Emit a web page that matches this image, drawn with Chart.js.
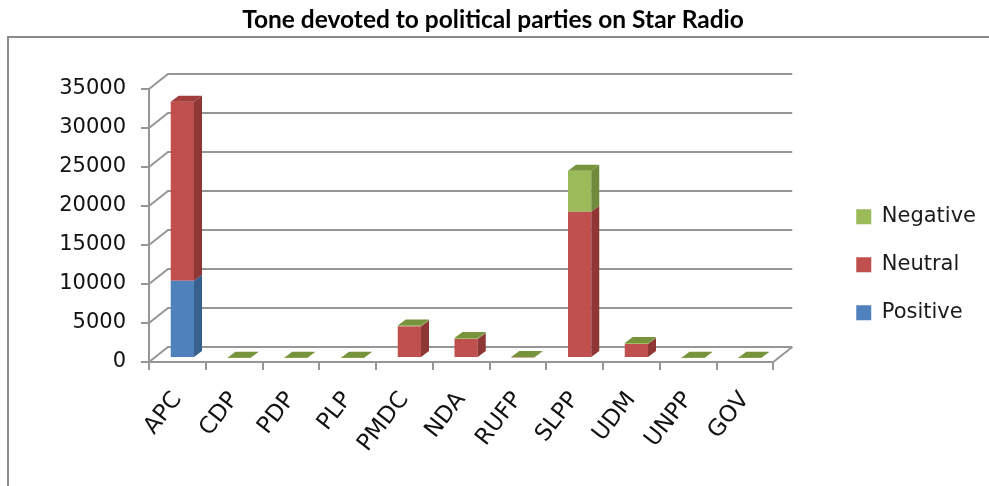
<!DOCTYPE html>
<html>
<head>
<meta charset="utf-8">
<script src="https://cdn.jsdelivr.net/npm/chart.js@4/dist/chart.umd.min.js"></script>
<style>
  html, body { margin: 0; padding: 0; background: #fff; }
  #wrap { width: 989px; height: 486px; position: relative; }
  .preload { position: absolute; left: -9999px; top: 0; }
</style>
</head>
<body>
<div class="preload" style="font-family: 'DejaVu Sans'">Negative 35000</div>
<div class="preload" style="font-family: Lato; font-weight: bold">Tone</div>
<div id="wrap"><canvas id="chart" width="989" height="486"></canvas></div>
<script>
// data
var parties = ["APC", "CDP", "PDP", "PLP", "PMDC", "NDA", "RUFP", "SLPP", "UDM", "UNPP", "GOV"];
var positive = [9900, 0, 0, 0, 0, 0, 0, 0, 0, 0, 0];
var neutral = [22950, 0, 0, 0, 4050, 2450, 80, 18750, 1800, 0, 0];
var negative = [0, 40, 40, 40, 130, 110, 60, 5250, 120, 40, 40];
var yTicks = [0, 5000, 10000, 15000, 20000, 25000, 30000, 35000];

var gridColor = "#969696";
var sideColors = ["#38608f", "#8e3735", "#6f8a3d"];
var topColors = ["#6b96cc", "#a23d3b", "#77933c"];
var depth = { dx: 19, dy: -15 };     // back wall offset
var barDepth = { dx: 8, dy: -6 };     // bar thickness
var barShift = { dx: 5, dy: -4 };     // bars sit a bit behind the front edge

// back wall gridlines, floor and 3d faces of the bars
var fake3d = {
    id: "fake3d",
    beforeDraw: function (chart) {
        var ctx = chart.ctx;
        ctx.save();
        ctx.fillStyle = "#fff";
        ctx.fillRect(0, 0, chart.width, chart.height);
        ctx.strokeStyle = "#8a8a8a";
        ctx.lineWidth = 2;
        ctx.strokeRect(8, 37, chart.width + 20, chart.height + 20);
        ctx.restore();
    },
    beforeDatasetsDraw: function (chart) {
        var ctx = chart.ctx;
        var area = chart.chartArea;
        var y = chart.scales.y;
        ctx.save();
        ctx.strokeStyle = gridColor;
        ctx.lineWidth = 2;
        y.ticks.forEach(function (t) {
            var py = y.getPixelForValue(t.value);
            ctx.beginPath();
            ctx.moveTo(area.left, py);
            ctx.lineTo(area.left + depth.dx, py + depth.dy);
            ctx.lineTo(area.right + depth.dx, py + depth.dy);
            ctx.stroke();
        });
        // right edge of the floor
        ctx.beginPath();
        ctx.moveTo(area.right, area.bottom);
        ctx.lineTo(area.right + depth.dx, area.bottom + depth.dy);
        ctx.stroke();
        ctx.restore();

        ctx.save();
        ctx.translate(barShift.dx, barShift.dy);
    },
    afterDatasetsDraw: function (chart) {
        var ctx = chart.ctx;
        var n = chart.data.labels.length;
        var metas = chart.data.datasets.map(function (d, i) { return chart.getDatasetMeta(i); });
        // side faces
        metas.forEach(function (meta, di) {
            meta.data.forEach(function (bar) {
                var h = bar.base - bar.y;
                if (h <= 0) return;
                var xr = bar.x + bar.width / 2;
                ctx.fillStyle = sideColors[di];
                ctx.beginPath();
                ctx.moveTo(xr, bar.y);
                ctx.lineTo(xr + barDepth.dx, bar.y + barDepth.dy);
                ctx.lineTo(xr + barDepth.dx, bar.base + barDepth.dy);
                ctx.lineTo(xr, bar.base);
                ctx.closePath();
                ctx.fill();
            });
        });
        // top faces, coloured by the highest non-empty segment
        for (var i = 0; i < n; i++) {
            var top = metas.length - 1;
            for (var d = metas.length - 1; d >= 0; d--) {
                if (chart.data.datasets[d].data[i] > 0) { top = d; break; }
            }
            var bar = metas[metas.length - 1].data[i];
            var xl = bar.x - bar.width / 2, xr = bar.x + bar.width / 2;
            ctx.fillStyle = topColors[top];
            ctx.beginPath();
            ctx.moveTo(xl, bar.y);
            ctx.lineTo(xl + barDepth.dx, bar.y + barDepth.dy);
            ctx.lineTo(xr + barDepth.dx, bar.y + barDepth.dy);
            ctx.lineTo(xr, bar.y);
            ctx.closePath();
            ctx.fill();
        }
        ctx.restore();
    }
};

var font = "'DejaVu Sans', Verdana, sans-serif";

function drawChart() {
    new Chart(document.getElementById("chart"), {
        type: "bar",
        data: {
            labels: parties,
            datasets: [
                { label: "Positive", data: positive, backgroundColor: "#4f81bd" },
                { label: "Neutral", data: neutral, backgroundColor: "#c0504d" },
                { label: "Negative", data: negative, backgroundColor: "#9bbb59" }
            ]
        },
        options: {
            responsive: false,
            animation: false,
            devicePixelRatio: 1,
            layout: { padding: { left: 0, right: 3, top: 0, bottom: 0 } },
            datasets: {
                bar: { categoryPercentage: 1, barPercentage: 0.41, clip: false, borderWidth: 0 }
            },
            plugins: {
                title: {
                    display: true,
                    text: "Tone devoted to political parties on Star Radio",
                    color: "#000",
                    font: { family: "Lato, sans-serif", size: 24.5, weight: "bold", lineHeight: 1.2 },
                    padding: { top: 5, bottom: 54.6 }
                },
                legend: {
                    position: "right",
                    align: "center",
                    fullSize: false,
                    reverse: true,
                    title: { display: true, text: "", padding: { top: 0, bottom: 64 }, font: { size: 12 } },
                    labels: {
                        boxWidth: 15,
                        boxHeight: 15,
                        padding: 27,
                        color: "#1a1a1a",
                        font: { family: font, size: 21 }
                    }
                },
                tooltip: { enabled: false }
            },
            scales: {
                x: {
                    stacked: true,
                    afterFit: function (s) { s.height = 124; },
                    grid: { offset: true, drawOnChartArea: false, tickLength: 8, color: gridColor, lineWidth: 2 },
                    border: { display: true, color: gridColor, width: 2 },
                    ticks: {
                        minRotation: 52,
                        maxRotation: 52,
                        autoSkip: false,
                        padding: 17,
                        color: "#111",
                        font: { family: font, size: 23 }
                    }
                },
                y: {
                    stacked: true,
                    min: 0,
                    max: 35000,
                    afterFit: function (s) { s.width = 149; },
                    afterBuildTicks: function (s) {
                        s.ticks = yTicks.map(function (v) { return { value: v }; });
                    },
                    grid: { drawOnChartArea: false, tickLength: 8, color: gridColor, lineWidth: 2 },
                    border: { display: true, color: gridColor, width: 2 },
                    ticks: {
                        padding: 15,
                        color: "#111",
                        font: { family: font, size: 21 },
                        callback: function (v) { return String(v); }
                    }
                },
                yR: {
                    type: "linear",
                    position: "right",
                    afterFit: function (s) { s.width = 56; },
                    grid: { display: false },
                    border: { display: false },
                    ticks: { display: false }
                }
            }
        },
        plugins: [fake3d]
    });
}

Promise.all([
    document.fonts.load("21px 'DejaVu Sans'"),
    document.fonts.load("bold 24px Lato")
]).then(drawChart, drawChart);
</script>
</body>
</html>
